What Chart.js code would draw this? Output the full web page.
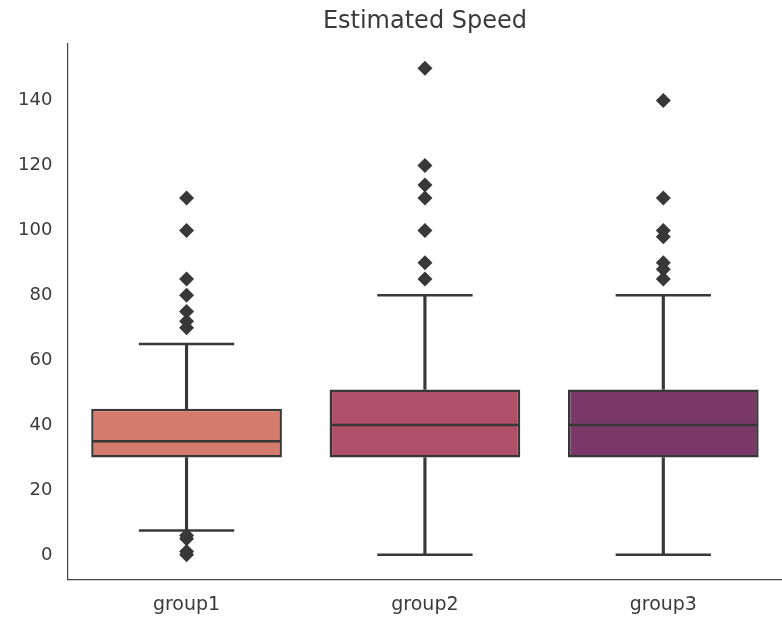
<!DOCTYPE html>
<html lang="en">
<head>
  <meta charset="UTF-8">
  <title>Estimated Speed</title>
  <script src="https://cdn.jsdelivr.net/npm/chart.js"></script>
  <style>
    html, body { margin: 0; padding: 0; background: #fff; overflow: hidden; }
    #outer { width: 782px; height: 617px; overflow: hidden; position: relative; }
    #wrap { position: absolute; left: 0; top: 0; width: 790px; height: 630px; }
  </style>
</head>
<body>
  <div id="outer"><div id="wrap"><canvas id="chart"></canvas></div></div>

  <script>
    // box plot summary
    const groups = ['group1', 'group2', 'group3'];
    const whiskLow = [7.5, 0, 0];
    const q1 = [30, 30, 30];
    const median = [35, 40, 40];
    const q3 = [45, 51, 51];
    const whiskHigh = [65, 80, 80];
    const outliers1 = [110, 100, 85, 80, 75, 72, 70, 6, 5, 1, 0];
    const outliers2 = [150, 120, 114, 110, 100, 90, 85];
    const outliers3 = [140, 110, 100, 98, 90, 88, 85];
    const yTicks = [0, 20, 40, 60, 80, 100, 120, 140];

    const boxColors = ['#d37b6d', '#af5068', '#7a3868'];
    const lineColor = '#383838';
    const textColor = '#3a3a3a';

    // a fraction of one category slot, in pixels
    function slotPart(chart, frac) {
      const area = chart.chartArea;
      if (!area) return 0;
      return area.width / groups.length * frac;
    }

    const outlierPoints = [];
    [outliers1, outliers2, outliers3].forEach((list, i) => {
      list.forEach(v => outlierPoints.push({ x: groups[i], y: v }));
    });

    const capPoints = [];
    groups.forEach((g, i) => {
      capPoints.push({ x: g, y: whiskLow[i] });
      capPoints.push({ x: g, y: whiskHigh[i] });
    });

    const medianPoints = groups.map((g, i) => ({ x: g, y: median[i] }));

    new Chart(document.getElementById('chart'), {
      type: 'bar',
      data: {
        labels: groups,
        datasets: [
          {
            type: 'line',
            label: 'outliers',
            data: outlierPoints,
            showLine: false,
            pointStyle: 'rectRot',
            pointRadius: 7.5,
            pointBackgroundColor: lineColor,
            pointBorderWidth: 0,
            order: 0
          },
          {
            type: 'line',
            label: 'median',
            data: medianPoints,
            showLine: false,
            pointStyle: 'line',
            pointRadius: c => slotPart(c.chart, 0.4) - 1,
            pointBorderColor: lineColor,
            pointBorderWidth: 2.5,
            order: 1
          },
          {
            type: 'line',
            label: 'caps',
            data: capPoints,
            showLine: false,
            pointStyle: 'line',
            pointRadius: c => slotPart(c.chart, 0.2),
            pointBorderColor: lineColor,
            pointBorderWidth: 2.5,
            order: 2
          },
          {
            label: 'box',
            data: groups.map((g, i) => [q1[i], q3[i]]),
            backgroundColor: boxColors,
            borderColor: lineColor,
            borderWidth: 2.5,
            borderSkipped: false,
            categoryPercentage: 0.8,
            barPercentage: 1,
            grouped: false,
            order: 3
          },
          {
            label: 'lower whisker',
            data: groups.map((g, i) => [whiskLow[i], q1[i]]),
            backgroundColor: lineColor,
            barThickness: 2.5,
            grouped: false,
            order: 4
          },
          {
            label: 'upper whisker',
            data: groups.map((g, i) => [q3[i], whiskHigh[i]]),
            backgroundColor: lineColor,
            barThickness: 2.5,
            grouped: false,
            order: 5
          }
        ]
      },
      options: {
        responsive: true,
        maintainAspectRatio: false,
        animation: false,
        events: [],
        layout: { padding: { left: 3, right: 3, top: 0, bottom: 0 } },
        plugins: {
          legend: { display: false },
          tooltip: { enabled: false },
          title: {
            display: true,
            fullSize: false,
            text: 'Estimated Speed',
            color: textColor,
            font: { family: 'DejaVu Sans', size: 24, weight: 'normal' },
            padding: { top: 7, bottom: 8 }
          }
        },
        scales: {
          x: {
            offset: true,
            grid: { display: false, drawTicks: false },
            border: { display: true, color: '#444', width: 1.2 },
            ticks: {
              color: textColor,
              padding: 14,
              font: { family: 'DejaVu Sans', size: 19 }
            }
          },
          y: {
            min: -7.5,
            max: 157.5,
            afterBuildTicks: scale => {
              scale.ticks = yTicks.map(v => ({ value: v }));
            },
            grid: { display: false, drawTicks: false },
            border: { display: true, color: '#444', width: 1.2 },
            ticks: {
              color: textColor,
              padding: 15,
              font: { family: 'DejaVu Sans', size: 18 }
            }
          }
        }
      }
    });
  </script>
</body>
</html>
